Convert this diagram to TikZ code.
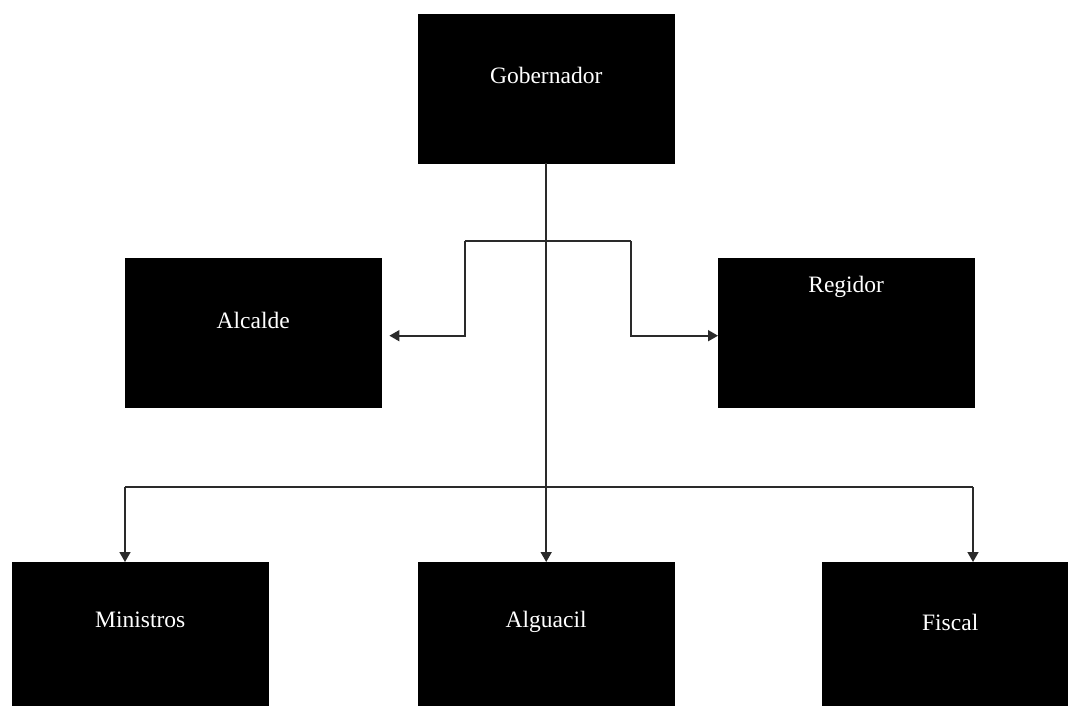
\documentclass[tikz,border=0pt]{standalone}
\usepackage{fontspec}
\setmainfont{Liberation Serif}
\usetikzlibrary{arrows.meta,positioning,calc}
\definecolor{paper}{HTML}{FFFFFF}
\definecolor{ink}{HTML}{000000}
\definecolor{wire}{HTML}{2A2A2A}
\newcommand{\BoxW}{256pt}
\newcommand{\BoxH}{149pt}

\begin{document}
\begin{tikzpicture}[
    x=1pt, y=-1pt,
    font=\fontsize{23.5}{28}\selectfont,
    office/.style={draw=ink, fill=ink, minimum width=\BoxW, minimum height=\BoxH, inner sep=0pt, anchor=north west},
    title/.style={text=paper, inner sep=0pt, anchor=center},
    edge/.style={-{Triangle[length=10pt, width=11pt]}, line width=1.6pt, draw=wire},
    wire/.style={line width=1.6pt, draw=wire},
  ]
\useasboundingbox[fill=paper] (0,0) rectangle (1068,706);

% the six offices, placed by their top left corners
\node[office] (gob) at (418, 14) {};
\node[office] (alc) at (125, 258) {};
\node[office] (reg) at (718, 258) {};
\node[office] (min) at (12, 562) {};
\node[office] (alg) at (418, 562) {};
\node[office] (fis) at (822, 562) {};

\node[title] (gob-t) at ([yshift=-61]gob.north) {Gobernador};
\node[title] (alc-t) at ([yshift=-62]alc.north) {Alcalde};
\node[title] (reg-t) at ([yshift=-29]reg.north) {Regidor};
\node[title] (min-t) at ([yshift=-58]min.north) {Ministros};
\node[title] (alg-t) at ([yshift=-60]alg.north) {Alguacil};
\node[title] (fis-t) at ([yshift=-60]fis.north) {Fiscal};

% branch points
\coordinate (jl) at (465, 241);
\coordinate (jr) at (631, 241);
\coordinate (bl) at (125, 487);
\coordinate (br) at (973, 487);

\draw[edge] (gob.south) -- (alg.north);
\draw[wire] (jl) -- (jr);
\draw[edge, shorten >=8pt] (jl) |- ([yshift=-3]alc.east);
\draw[edge] (jr) |- ([yshift=-3]reg.west);
\draw[wire] (bl) -- (br);
\draw[edge] (bl) -- (bl |- min.north);
\draw[edge] (br) -- (br |- fis.north);

\end{tikzpicture}
\end{document}
